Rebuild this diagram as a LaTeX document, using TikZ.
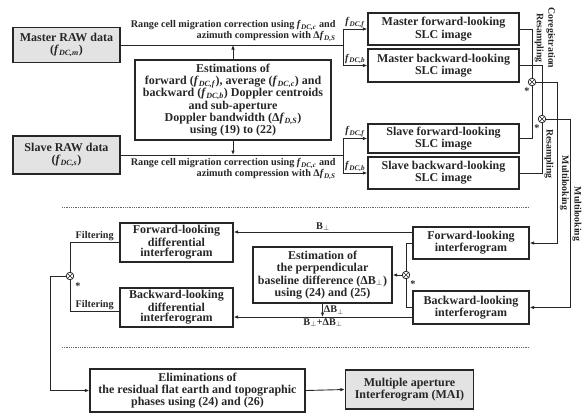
\documentclass[tikz,border=0pt]{standalone}
\usepackage{fontspec}
\setmainfont{Liberation Serif}
\usetikzlibrary{arrows.meta}

\newcommand{\boxfont}{\bfseries\fontsize{12}{12.2}\selectfont}
\newcommand{\tightfont}{\bfseries\fontsize{12}{10.6}\selectfont}
\newcommand{\labelfont}{\bfseries\fontsize{10.2}{11}\selectfont}
\newcommand{\sidefont}{\bfseries\fontsize{9.8}{11.5}\selectfont}
\newcommand{\fdc}[1]{\textit{f}\textsubscript{\textit{DC,#1}}}
\newcommand{\dfds}{Δ\textit{f}\textsubscript{\textit{D,S}}}

\begin{document}
\begin{tikzpicture}[x=1pt,y=-1pt,>={Latex[length=4.5pt,width=3.5pt]},
  line width=0.9pt,color=black!85,
  box node/.style={draw,line width=1.2pt,align=center,inner sep=0.5pt,
    font=\boxfont},
  data node/.style={box node,fill=gray!22},
  mix node/.style={circle,draw,line width=0.8pt,minimum size=7.5pt,inner sep=0pt,
    path picture={\draw[line width=0.6pt]
      (path picture bounding box.south west) -- (path picture bounding box.north east)
      (path picture bounding box.north west) -- (path picture bounding box.south east);}},
  link label/.style={font=\labelfont,inner sep=1pt},
  side label/.style={font=\sidefont,rotate=-90,align=center,inner sep=0pt},
  sep line/.style={line width=0.6pt,dash pattern=on 1pt off 0.8pt,black!60}]

  \useasboundingbox (0,0) rectangle (583,413);

  % raw data and Doppler estimation
  \node[data node,minimum width=107pt,minimum height=35pt] (mraw) at (66.5,45) {Master RAW data\\(\fdc{m})};
  \node[data node,minimum width=107pt,minimum height=38pt] (sraw) at (66.5,155) {Slave RAW data\\(\fdc{s})};
  \node[box node,minimum width=196pt,minimum height=80pt] (est) at (233,100)
    {Estimations of\\forward (\fdc{f}), average (\fdc{c}) and\\backward (\fdc{b}) Doppler centroids\\and sub-aperture\\Doppler bandwidth (\dfds)\\using (19) to (22)};

  % SLC images
  \node[box node,minimum width=151pt,minimum height=32pt] (mfwd) at (443.5,29) {Master forward-looking\\SLC image};
  \node[box node,minimum width=151pt,minimum height=33pt] (mbwd) at (443.5,65.5) {Master backward-looking\\SLC image};
  \node[box node,minimum width=151pt,minimum height=29pt] (sfwd) at (443.5,138.5) {Slave forward-looking\\SLC image};
  \node[box node,minimum width=151pt,minimum height=32pt] (sbwd) at (443.5,173) {Slave backward-looking\\SLC image};

  \coordinate (msplit) at (343,45);
  \coordinate (ssplit) at (343,155);

  \draw (mraw.east) -- (msplit);
  \draw[->] (msplit) |- (mfwd.west) node[link label,pos=0.75,above] {\fdc{f}};
  \draw[->] (msplit) |- (mbwd.west) node[link label,pos=0.75,above] {\fdc{b}};
  \draw (sraw.east) -- (ssplit);
  \draw[->] (ssplit) |- (sfwd.west) node[link label,pos=0.75,above] {\fdc{f}};
  \draw[->] (ssplit) |- (sbwd.west) node[link label,pos=0.75,above] {\fdc{b}};
  \draw[->] (est.north) -- (est.north |- msplit);
  \draw[->] (est.south) -- (est.south |- ssplit);

  \node[link label,align=right,anchor=south east] at (337,43)
    {Range cell migration correction using \fdc{c} and\\azimuth compression with \dfds};
  \node[link label,align=right,anchor=north east] at (337,157)
    {Range cell migration correction using \fdc{c} and\\azimuth compression with \dfds};

  % coregistration, resampling and multilooking
  \node[mix node] (fmix) at (532,82) {};
  \node[mix node] (bmix) at (542,119) {};
  \node[link label] at (527,91) {*};
  \node[link label] at (537,128) {*};
  \draw (mfwd.east) -| (fmix.north);
  \draw (sfwd.east) -| (fmix.south);
  \draw (mbwd.east) -| (bmix.north);
  \draw (sbwd.east) -| (bmix.south);

  \node[side label] at (545,38) {Coregistration\\Resampling};
  \node[side label] at (549,154) {Resampling};
  \node[side label] at (564.5,183) {Multilooking};
  \node[side label] at (577,214) {Multilooking};

  \draw[sep line] (62,207) -- (530,207);

  % interferograms
  \node[box node,minimum width=116pt,minimum height=32pt] (fint) at (471,243) {Forward-looking\\interferogram};
  \node[box node,minimum width=116pt,minimum height=33pt] (bint) at (471,307.5) {Backward-looking\\interferogram};
  \node[box node,minimum width=139pt,minimum height=56pt] (pest) at (322.5,275)
    {Estimation of\\the perpendicular\\baseline difference (ΔB$_\perp$)\\using (24) and (25)};
  \node[box node,minimum width=113pt,minimum height=39pt,font=\tightfont] (fdiff) at (176.5,242.5) {Forward-looking\\differential\\interferogram};
  \node[box node,minimum width=113pt,minimum height=39pt,font=\tightfont] (bdiff) at (176.5,307.5) {Backward-looking\\differential\\interferogram};

  \coordinate (fml) at (557,82);
  \coordinate (bml) at (570,119);
  \draw[->] (fmix.east) -- (fml) |- (fint.east);
  \draw[->] (bmix.east) -- (bml) |- (bint.east);

  \node[mix node] (imix) at (406,275) {};
  \node[link label] at (413,284) {*};
  \draw (fint.west) -| (imix.north);
  \draw (bint.west) -| (imix.south);
  \draw[->] (imix.west) -- (pest.east);

  \draw[->] ([yshift=11pt]fint.west) -- ([yshift=11pt]fint.west -| fdiff.east)
    node[link label,midway,above] {B$_\perp$};
  \draw[->] ([yshift=-9.5pt]bint.west) -- ([yshift=-9.5pt]bint.west -| bdiff.east)
    node[link label,midway,below] {B$_\perp$+ΔB$_\perp$};
  \draw[->] (pest.south) -- (pest.south |- 0,317) node[link label,midway,right] {ΔB$_\perp$};

  % filtering and final product
  \node[mix node] (dmix) at (70,276) {};
  \node[link label] at (78,286) {*};
  \draw (fdiff.west) -| (dmix.north) node[link label,pos=0.25,above] {Filtering};
  \draw ([yshift=-3.5pt]bdiff.west) -| (dmix.south) node[link label,pos=0.25,above] {Filtering};

  \draw[sep line] (62,347) -- (530,347);

  \node[box node,minimum width=215pt,minimum height=43pt] (elim) at (197.5,390.5)
    {Eliminations of\\the residual flat earth and topographic\\phases using (24) and (26)};
  \node[data node,minimum width=128pt,minimum height=39pt] (mai) at (409.5,389.5)
    {Multiple aperture\\Interferogram (MAI)};

  \coordinate (fback) at (50,276);
  \draw[->] (dmix.west) -- (fback) |- (elim.west);
  \draw[->] (elim.east) -- (mai.west);
\end{tikzpicture}
\end{document}
